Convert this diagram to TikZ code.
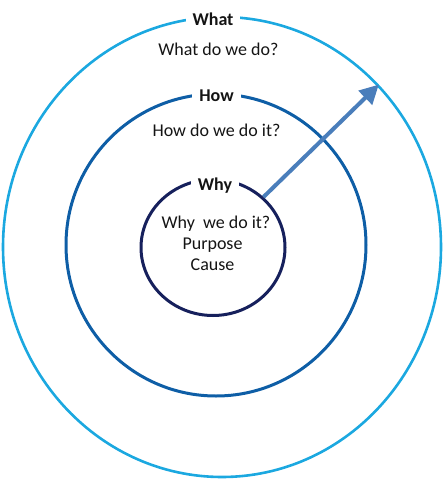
\documentclass[tikz,border=0pt]{standalone}
\usepackage{fontspec}
\setmainfont{Carlito}
\usetikzlibrary{shapes.geometric,arrows.meta}
\definecolor{outerc}{RGB}{27,168,224}
\definecolor{midc}{RGB}{14,94,166}
\definecolor{innerc}{RGB}{22,32,92}
\definecolor{arrowc}{RGB}{74,126,187}
\definecolor{textc}{RGB}{20,20,20}
\begin{document}
\begin{tikzpicture}[x=1pt,y=-1pt,
  ring/.style={draw, ellipse, inner sep=0pt},
  title/.style={font=\fontsize{18}{20}\selectfont\bfseries, text=textc, fill=white, inner xsep=7pt, inner ysep=1pt, anchor=base},
  body/.style={font=\fontsize{18}{21}\selectfont, text=textc, anchor=base, inner sep=0pt},
  pointer/.style={line width=4pt, draw=arrowc, -{Triangle[length=19pt,width=19pt]}}
  ]
\useasboundingbox (0,0) rectangle (444,480);
\node[ring, draw=outerc, line width=2.6pt, minimum width=438pt, minimum height=460pt] (outer) at (222,247) {};
\node[ring, draw=midc, line width=3pt, minimum width=300pt, minimum height=302pt] (middle) at (216,245) {};
\node[ring, draw=innerc, line width=3pt, minimum width=144pt, minimum height=136pt] (inner) at (213,247.5) {};
\node[title] (what) at (213,25) {What};
\node[body] (whatq) at (218.5,55) {What do we do?};
\node[title] (how) at (216.5,101) {How};
\node[body] (howq) at (216.5,136) {How do we do it?};
\node[title] (why) at (215,190) {Why};
\node[body] (whyq) at (216,228) {Why\ \ we do it?};
\node[body] (purpose) at (212.5,249) {Purpose};
\node[body] (cause) at (212.5,270) {Cause};
\draw[pointer] (inner.45) -- (outer.46);
\end{tikzpicture}
\end{document}
